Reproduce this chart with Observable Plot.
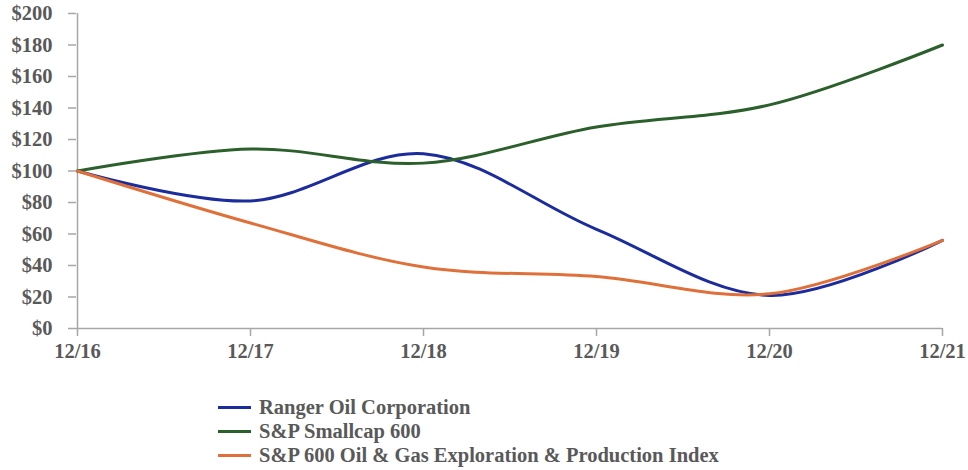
<!DOCTYPE html>
<html><head><meta charset="utf-8">
<script src="https://cdn.jsdelivr.net/npm/d3@7"></script>
<script src="https://cdn.jsdelivr.net/npm/@observablehq/plot@0.6"></script>
<style>
body{margin:0;background:#fff;}
#wrap{position:relative;width:968px;height:470px;font-family:"Liberation Serif","DejaVu Serif",serif;}
#legend{position:absolute;left:218px;top:395px;font-weight:bold;font-size:20.5px;color:#595959;line-height:24px;}
#legend .row{display:flex;align-items:center;height:24px;}
#legend .sw{width:33px;height:3px;margin-right:8px;}
</style></head>
<body><div id="wrap"><div id="chart"></div><div id="legend"></div></div>
<script>
const periods = ["12/16","12/17","12/18","12/19","12/20","12/21"];
const seriesNames = ["Ranger Oil Corporation","S&P Smallcap 600","S&P 600 Oil & Gas Exploration & Production Index"];
const ranger = [100, 81, 111, 63, 21, 56];
const smallcap = [100, 114, 105, 128, 142, 180];
const oilGas = [100, 67, 39, 33, 22, 56];
const colors = ["#1c2c9c","#2b5f2b","#e0703a"];
const yTicks = [0,20,40,60,80,100,120,140,160,180,200];

const allSeries = [ranger, smallcap, oilGas];
const data = [];
allSeries.forEach((vals, si) => vals.forEach((v, i) => data.push({period: periods[i], value: v, series: seriesNames[si]})));

const axisGray = "#a6a6a6";
const chart = Plot.plot({
  width: 968, height: 380,
  marginTop: 13, marginBottom: 52, marginLeft: 76, marginRight: 26,
  style: {fontFamily: "'Liberation Serif', serif", fontSize: "20.5px", fontWeight: "bold", color: "#595959", background: "#fff"},
  x: {type: "point", domain: periods, padding: 0, label: null},
  y: {domain: [0, 200], ticks: yTicks, label: null},
  color: {domain: seriesNames, range: colors},
  marks: [
    Plot.ruleX([periods[0]], {stroke: axisGray, strokeWidth: 1.5}),
    Plot.ruleY([0], {stroke: axisGray, strokeWidth: 1.5}),
    Plot.axisY({ticks: yTicks, tickFormat: d => "$" + d, tickSize: 8, tickPadding: 16, stroke: axisGray, strokeWidth: 1.5, strokeOpacity: 1, fill: "#595959", label: null}),
    Plot.axisX({tickSize: 8, tickPadding: 7, stroke: axisGray, strokeWidth: 1.5, strokeOpacity: 1, fill: "#595959", label: null}),
    Plot.line(data, {x: "period", y: "value", z: "series", stroke: "series", strokeWidth: 3, curve: "catmull-rom"})
  ]
});
document.getElementById("chart").appendChild(chart);

const legend = document.getElementById("legend");
seriesNames.forEach((n, i) => {
  const row = document.createElement("div"); row.className = "row";
  const sw = document.createElement("div"); sw.className = "sw"; sw.style.background = colors[i];
  const t = document.createElement("span"); t.textContent = n;
  row.appendChild(sw); row.appendChild(t); legend.appendChild(row);
});
</script></body></html>
